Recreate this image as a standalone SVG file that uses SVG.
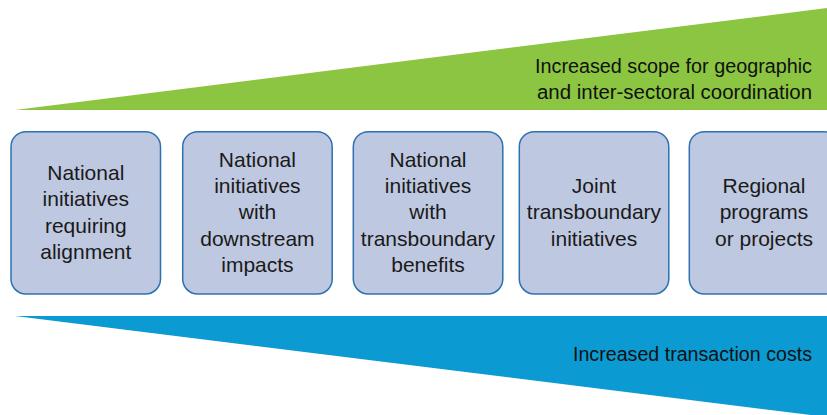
<svg xmlns="http://www.w3.org/2000/svg" width="827" height="415" viewBox="0 0 827 415">
  <style>
    .box { fill: #bec8e0; stroke: #2b71b1; stroke-width: 1.5; }
    .label { font-family: "Liberation Sans", Arial, sans-serif; font-size: 21px; fill: #1a1a1a; text-anchor: middle; }
    .band { font-family: "Liberation Sans", Arial, sans-serif; font-size: 20px; fill: #111; text-anchor: end; }
  </style>
  <rect width="827" height="415" fill="#ffffff"/>

  <!-- widening bands -->
  <g id="scope-band">
    <polygon points="15,110 827,8 827,110" fill="#8bc541"/>
    <text class="band" x="812" y="72.5" textLength="277" lengthAdjust="spacingAndGlyphs">Increased scope for geographic</text>
    <text class="band" x="812" y="99" textLength="275" lengthAdjust="spacingAndGlyphs">and inter-sectoral coordination</text>
  </g>
  <g id="cost-band">
    <polygon points="15,316 827,316 827,417" fill="#0b9ad2"/>
    <text class="band" x="812" y="361" textLength="239" lengthAdjust="spacingAndGlyphs">Increased transaction costs</text>
  </g>

  <g id="national-alignment">
    <rect class="box" x="11" y="131.7" width="149.5" height="162.3" rx="15"/>
    <text class="label" x="85.8" y="179.7">National</text>
    <text class="label" x="85.8" y="206.1">initiatives</text>
    <text class="label" x="85.8" y="232.5">requiring</text>
    <text class="label" x="85.8" y="258.9">alignment</text>
  </g>
  <g id="national-downstream">
    <rect class="box" x="182.7" y="131.7" width="149.5" height="162.3" rx="15"/>
    <text class="label" x="257.4" y="166.5">National</text>
    <text class="label" x="257.4" y="192.9">initiatives</text>
    <text class="label" x="257.4" y="219.3">with</text>
    <text class="label" x="257.4" y="245.7">downstream</text>
    <text class="label" x="257.4" y="272.1">impacts</text>
  </g>
  <g id="national-transboundary">
    <rect class="box" x="353.3" y="131.7" width="149.5" height="162.3" rx="15"/>
    <text class="label" x="428" y="166.5">National</text>
    <text class="label" x="428" y="192.9">initiatives</text>
    <text class="label" x="428" y="219.3">with</text>
    <text class="label" x="428" y="245.7">transboundary</text>
    <text class="label" x="428" y="272.1">benefits</text>
  </g>
  <g id="joint-transboundary">
    <rect class="box" x="519.3" y="131.7" width="149.5" height="162.3" rx="15"/>
    <text class="label" x="594" y="192.9">Joint</text>
    <text class="label" x="594" y="219.3">transboundary</text>
    <text class="label" x="594" y="245.7">initiatives</text>
  </g>
  <g id="regional-programs">
    <rect class="box" x="689.3" y="131.7" width="149.5" height="162.3" rx="15"/>
    <text class="label" x="764" y="192.9">Regional</text>
    <text class="label" x="764" y="219.3">programs</text>
    <text class="label" x="764" y="245.7">or projects</text>
  </g>

  <g id="connectors"></g>
</svg>
